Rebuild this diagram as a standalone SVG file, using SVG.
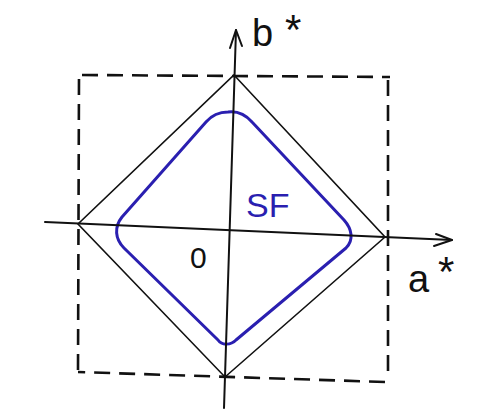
<svg xmlns="http://www.w3.org/2000/svg" width="483" height="411" viewBox="0 0 483 411">
<style>
.ink{fill:none;stroke:#111;stroke-width:2;stroke-linecap:round;stroke-linejoin:round}
.thin{fill:none;stroke:#111;stroke-width:1.6;stroke-linecap:round}
.dash{fill:none;stroke:#111;stroke-width:2.6;stroke-dasharray:16 9}
.blue{fill:none;stroke:#2a1fb0;stroke-width:3;stroke-linejoin:round}
.lbl{font-family:"Liberation Sans",Arial,sans-serif;fill:#111}
</style>
<rect width="483" height="411" fill="#fff"/>
<g id="box">
<path class="dash" d="M82 75 L390 77"/>
<path class="dash" d="M388 80 L388 380"/>
<path class="dash" d="M385 382 L78 372"/>
<path class="dash" d="M78 370 L79 75"/>
</g>
<g id="diamond">
<path class="thin" d="M234 75 L385 237 L225 377 L78 224 Z"/>
</g>
<g id="SF-curve">
<path class="blue" d="M228 112 C236 111 244 113 252 122 L344 220 C352 229 354 240 346 248 L236 340 C231 345 222 346 218 340 L124 248 C115 239 114 227 122 217 L206 122 C212 115 220 112 228 112 Z"/>
</g>
<g id="axes">
<path class="ink" d="M45 222 L452 240"/>
<path class="ink" d="M434 246 L452 240 L436 234"/>
<path class="ink" d="M236 30 L224 408"/>
<path class="ink" d="M230 48 L236 30 L242 46"/>
</g>
<g id="labels">
<text class="lbl" x="252" y="46" font-size="38">b</text>
<text class="lbl" x="285" y="44" font-size="42">*</text>
<text class="lbl" x="408" y="292" font-size="38">a</text>
<text class="lbl" x="438" y="286" font-size="42">*</text>
<text class="lbl" x="190" y="268" font-size="30">0</text>
<text class="lbl" x="246" y="217" font-size="34" style="fill:#2a1fb0">SF</text>
</g>
</svg>
